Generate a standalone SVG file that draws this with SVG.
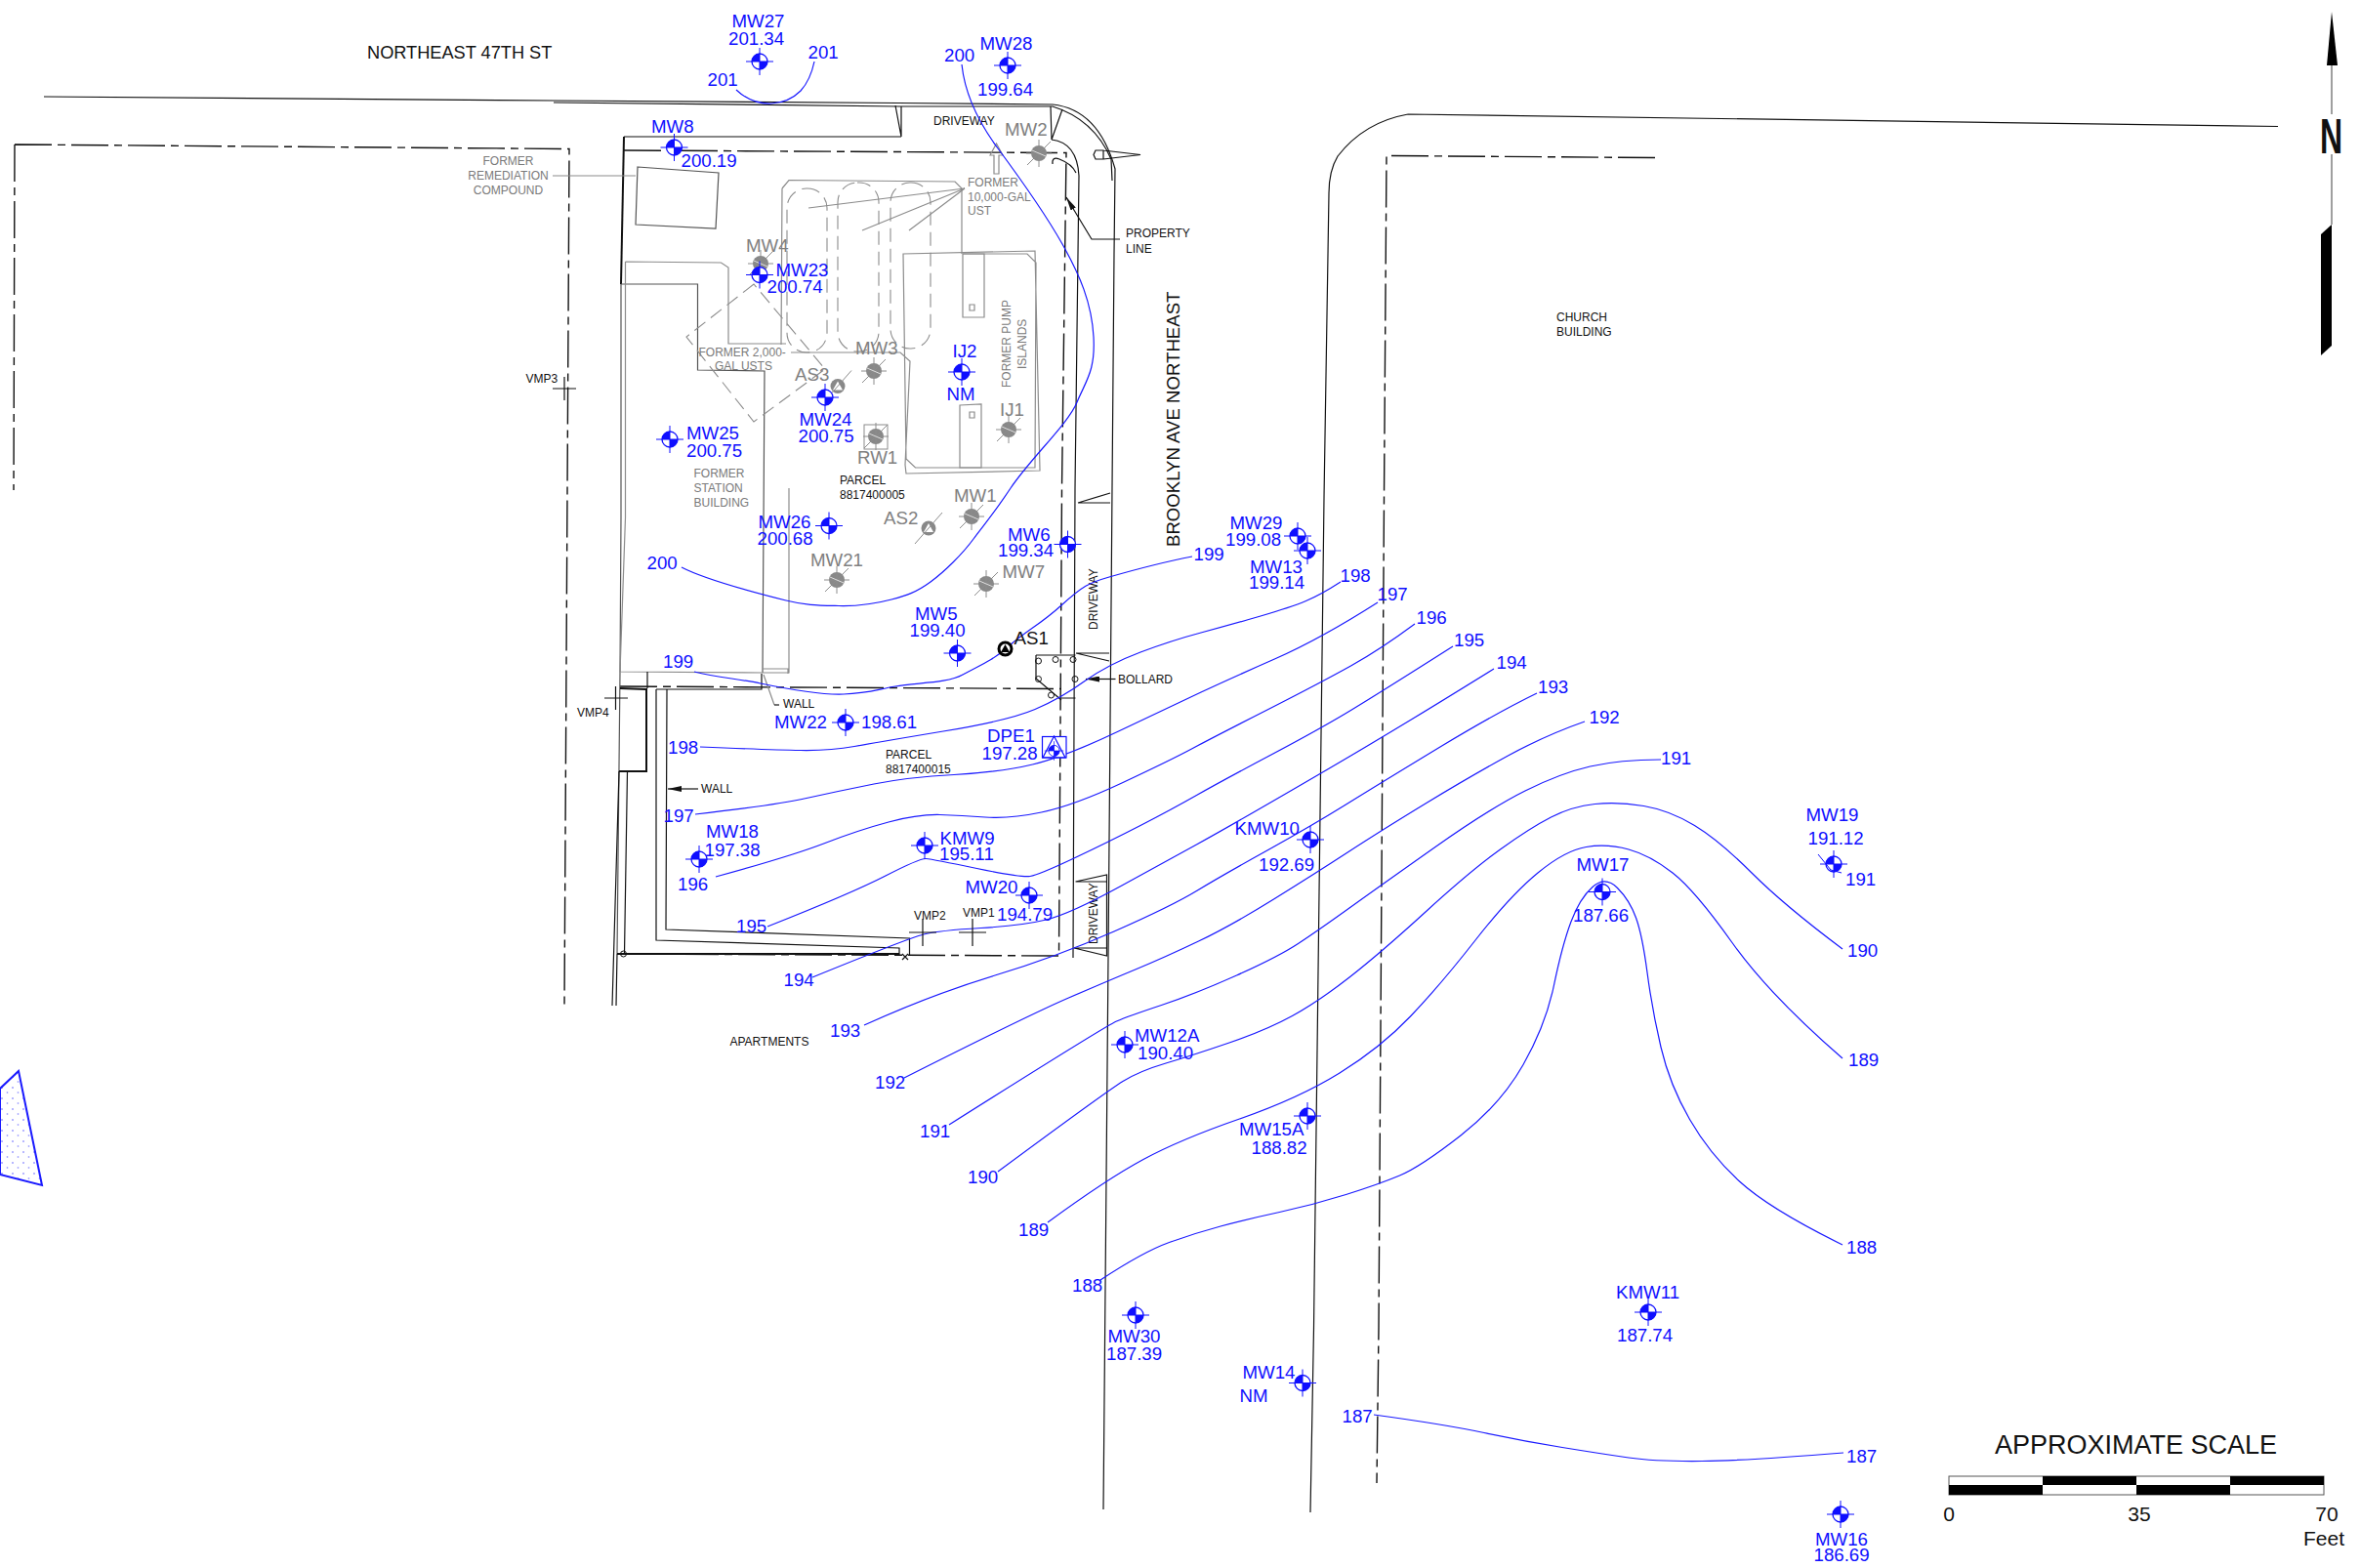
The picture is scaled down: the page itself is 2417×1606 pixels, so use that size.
<svg xmlns="http://www.w3.org/2000/svg" xmlns:xlink="http://www.w3.org/1999/xlink" width="2417" height="1606" viewBox="0 0 2417 1606">
<style>
text{font-family:"Liberation Sans",Arial,sans-serif}
.b{fill:#0f0fff;font-size:18.7px}
.g{fill:#808080;font-size:18.7px}
.s{fill:#111;font-size:12px}
.sg{fill:#7a7a7a;font-size:12px}
.l{fill:none;stroke:#111;stroke-width:1.2}
.m{fill:none;stroke:#555;stroke-width:1.2}
.t{fill:none;stroke:#111;stroke-width:2}
.y{fill:none;stroke:#8c8c8c;stroke-width:1.2}
.d{fill:none;stroke:#111;stroke-width:1.4;stroke-dasharray:38 6 8 6}
.gd{fill:none;stroke:#8c8c8c;stroke-width:1.1;stroke-dasharray:14 7}
.c{fill:none;stroke:#1a1aff;stroke-width:1.2}
</style>
<defs>
<g id="bw"><circle r="8" fill="#fff" stroke="#0f0fff" stroke-width="1.3"/><path d="M0 0H-8A8 8 0 0 1 0-8ZM0 0H8A8 8 0 0 1 0 8Z" fill="#0f0fff"/><path d="M-14 0H14M0-14V14" stroke="#0f0fff" stroke-width="1" fill="none"/></g>
<g id="gw"><circle r="8" fill="#888"/><path d="M-13 0H13M0-14V14M-12 12L12-12" stroke="#8c8c8c" stroke-width="1" fill="none"/><path d="M-7-3L7 3" stroke="#ddd" stroke-width="1"/></g>
<g id="gt"><circle r="7.500" fill="#888"/><path d="M0-5L5 4H-5Z" fill="#fff"/><path d="M-14 16L14-16" stroke="#8c8c8c" stroke-width="1"/></g>
<marker id="a" markerWidth="14" markerHeight="6" refX="0" refY="3" orient="auto" markerUnits="userSpaceOnUse"><path d="M0 3L14 0V6Z" fill="#111"/></marker>
<pattern id="dots" width="11" height="11" patternUnits="userSpaceOnUse"><circle cx="2" cy="3" r=".7" fill="#3a3aff"/><circle cx="7.500" cy="8" r=".9" fill="#a8a8ff"/></pattern>
</defs>
<rect width="2417" height="1606" fill="#fff"/>

<g id="site">
<path class="l" d="M45 99L567 103L920 105.500L1078 107Q1125 112 1142 173L1141 260L1135 980L1130 1546"/>
<path class="l" d="M567 105L922 109L1078 109Q1120 122 1138 163L1139 185"/>
<path class="l" d="M639 140H923M1077 143Q1103 146 1105 180L1101 500L1099 981"/>
<path class="l" d="M917 108L923 140V109M1076 109L1077 143L1088 112"/>
<path class="l" d="M1078 168Q1077 160 1085 163Q1098 168 1102 177"/>
<path class="d" d="M15 148L583 152.500L578 1030M15 148L14 502"/>
<path class="d" d="M639 154L1092 156.500L1087.500 500L1084.500 979L632 977M635 703L1087 705.500"/>
<path class="t" d="M639 140L636 291"/>
<path class="m" d="M636 291L636 530L635 688L632 977"/>
<path class="m" d="M636 291H714.500V379L783 380L781 689"/>
<path class="y" d="M640.500 268L738.500 269L746 274V352L805 352M640.500 268V530L635 688L781 689M808 500V689H781M781 685H807V690"/>
<path class="y" d="M810 361H922L932 370L927 476L928 485L1065 482L1060 257L925 260L928 470L937.500 479H1060L1061 269L1052 260H986"/>
<path class="y" d="M801 193L808 184.500L978 186L985 193V260M801 193L800 353"/>
<path class="y" d="M986 260H1008V325H986ZM983 415L1005 414V479H983ZM993 312h5v6h-5ZM993 422h5v6h-5Z"/>
<path class="m" d="M653 171L736 177L733 234L651 230Z"/>
<path class="y" d="M566 180H651M988 193L828 213M988 193L883 236M988 193L931 236"/>
<rect class="gd" x="806" y="193" width="41" height="168" rx="20"/>
<rect class="gd" x="858" y="187" width="42" height="173" rx="20"/>
<rect class="gd" x="912" y="187" width="41" height="170" rx="20"/>
<path class="gd" d="M772 291L703 345L772 432L845 378Z"/>
<path class="y" d="M1014 159L1020.500 147L1027 159H1023V178H1018V159Z"/>
<path class="l" d="M1092 202L1118 245H1147" marker-start="url(#a)"/>
<path class="l" d="M1122 154H1130V163H1122L1120 158.500ZM1130 154L1168 158.500L1130 163"/>
<path class="l" d="M1104 515L1137 505M1104 515H1137M1102 669L1136 677M1102 669H1136M1101.500 903L1133.500 896V979L1100 971H1133.500M1101.500 903H1133.500"/>
<path class="l" d="M1087 715H1101.500M1061 671H1101.500M1061 671V695L1087 717"/>
<g fill="none" stroke="#111" stroke-width="1"><circle cx="1063.500" cy="677" r="3"/><circle cx="1081" cy="675.500" r="3"/><circle cx="1099" cy="675.500" r="3"/><circle cx="1063.500" cy="695.500" r="3"/><circle cx="1101" cy="695.500" r="3"/><circle cx="1076.500" cy="712" r="3"/></g>
<path class="l" d="M1112 695.500H1142.500" marker-start="url(#a)"/>
<path class="l" d="M684 808H715" marker-start="url(#a)"/>
<path class="y" d="M782 691L793 722"/><path class="l" d="M793 722H798"/>
<path class="l" d="M672 706V963L921 971V979M683 706L682 952L931.500 961V979M672 706H780V690"/>
<path class="t" d="M635 705L662 706V790H634M632 977H921"/>
<path class="l" d="M663 688V705M634 790L627 1030M642.500 790L639.500 977M632 977L631 1030"/>
<circle cx="638.500" cy="977" r="3" fill="none" stroke="#111"/>
<path class="l" d="M924 977L930 983M930 977L924 983"/>
<path class="l" d="M1442 117L2333 129.500M1442 117Q1397 125 1370 160Q1361 175 1361 198L1356 510L1345.500 1360L1342 1549"/>
<path class="d" d="M1695 161.500L1420 159.500L1417.500 510L1412 1360L1410 1519"/>
</g>

<g id="wedge"><path d="M19 1097L43 1214L0 1203V1115Z" fill="url(#dots)" stroke="#1a1aff" stroke-width="2"/></g>

<g id="north-arrow">
<path d="M2388 12L2394 67H2383Z" fill="#000"/>
<path d="M2388 67V117M2388 158V230" stroke="#808080" stroke-width="1.500"/>
<path d="M2377 240L2388 230V354L2377 364Z" fill="#000"/>
<text transform="translate(2376 157) scale(.64 1)" style="font-size:50px;font-weight:bold" fill="#111">N</text>
</g>

<g id="scale">
<rect x="1996" y="1512" width="384" height="19" fill="#fff" stroke="#555" stroke-width="1"/>
<path d="M1996 1521H2092V1531H1996ZM2092 1512H2188V1521H2092ZM2188 1521H2284V1531H2188ZM2284 1512H2380V1521H2284Z" fill="#000"/>
<text x="2043" y="1489" style="font-size:27px" fill="#111">APPROXIMATE SCALE</text>
<text x="1996" y="1558" text-anchor="middle" style="font-size:21px" fill="#111">0</text>
<text x="2191" y="1558" text-anchor="middle" style="font-size:21px" fill="#111">35</text>
<text x="2383" y="1558" text-anchor="middle" style="font-size:21px" fill="#111">70</text>
<text x="2359" y="1583" style="font-size:21px" fill="#111">Feet</text>
</g>

<g id="plan-labels">
<text x="376" y="60" style="font-size:18.2px" fill="#111">NORTHEAST 47TH ST</text>
<text x="956" y="128" class="s">DRIVEWAY</text>
<text class="sg" x="520.500" y="169" text-anchor="middle">FORMER</text>
<text class="sg" x="520.500" y="183.500" text-anchor="middle">REMEDIATION</text>
<text class="sg" x="520.500" y="198.500" text-anchor="middle">COMPOUND</text>
<text class="sg" x="991" y="191">FORMER</text><text class="sg" x="991" y="205.500">10,000-GAL</text><text class="sg" x="991" y="220">UST</text>
<text class="s" x="1153" y="243">PROPERTY</text><text class="s" x="1153" y="258.500">LINE</text>
<text class="sg" x="715.500" y="365">FORMER 2,000-</text><text class="sg" x="732" y="379">GAL USTS</text>
<text class="sg" transform="translate(1035 397) rotate(-90)">FORMER PUMP</text>
<text class="sg" transform="translate(1050.500 378) rotate(-90)">ISLANDS</text>
<text class="sg" x="710.500" y="489">FORMER</text><text class="sg" x="710.500" y="504">STATION</text><text class="sg" x="710.500" y="519">BUILDING</text>
<text class="s" x="860" y="496">PARCEL</text><text class="s" x="860" y="511">8817400005</text>
<text class="s" x="907" y="777">PARCEL</text><text class="s" x="907" y="792">8817400015</text>
<text class="s" x="802" y="725">WALL</text><text class="s" x="718" y="812">WALL</text><text class="s" x="1145" y="700">BOLLARD</text>
<text class="s" x="747.500" y="1071">APARTMENTS</text>
<text class="s" x="1594" y="329">CHURCH</text><text class="s" x="1594" y="343.500">BUILDING</text>
<text transform="translate(1208 560) rotate(-90)" style="font-size:18.6px" fill="#111">BROOKLYN AVE NORTHEAST</text>
<text class="s" transform="translate(1123.500 645) rotate(-90)">DRIVEWAY</text>
<text class="s" transform="translate(1124 967) rotate(-90)">DRIVEWAY</text>
</g>

<g id="contours">
<path id="c201" class="c" d="M754 92Q770 107 790 106Q808 105 820 93Q830 82 834 63"/>
<path id="c200" class="c" d="M985 66C988 95 1002 125 1022 152S1070 218 1088 250S1118 310 1120 345S1112 390 1103 412S1055 470 1035 500S1008 537 997 552S968 585 953 596S928 610 913 614S880 621 859 620.500S825 620 805 615S725 595 698 581"/>
<path id="c199" class="c" d="M711 688C735 694 755 695 779 700S840 712 864 711S895 707 917 703S970 700 986 691S1015 678 1033 662S1065 640 1087 620S1115 597 1136 591S1195 575 1221 570"/>
<path id="c198" class="c" d="M717 765Q790 768 820 768.500Q850 769 875 764.500Q900 760 966 749Q1033 738 1060 726.500Q1087 715 1111 697.500Q1136 680 1168 668Q1200 656 1230 648Q1260 640 1291 631Q1322 622 1337.500 615.500Q1353 609 1373 596"/>
<path id="c197" class="c" d="M712 834Q792 825 826 817.500Q860 810 895 803Q930 796 977 793.500Q1024 791 1057.500 783Q1091 775 1145.500 749Q1200 723 1230 709Q1260 695 1306.500 674.500Q1353 654 1411 617"/>
<path id="c196" class="c" d="M733 898Q810 877 845 863.500Q880 850 910 842Q940 834 962.500 834.500Q985 835 1009 837Q1033 839 1066.500 832Q1100 825 1150 801.500Q1200 778 1220.500 767Q1241 756 1297 727.500Q1353 699 1383.500 682Q1414 665 1449 639"/>
<path id="c195" class="c" d="M786 949Q872 915 907 897Q942 879 948.500 879.500Q955 880 1000.500 889.500Q1046 899 1055 897.500Q1064 896 1100 879Q1136 862 1168 845.500Q1200 829 1225.500 814.500Q1251 800 1302 773Q1353 746 1383.500 727.500Q1414 709 1488 662"/>
<path id="c194" class="c" d="M832 1001Q930 961 946 957Q962 953 1004.500 950.500Q1047 948 1071.500 942Q1096 936 1148 907.500Q1200 879 1225.500 865Q1251 851 1302 821.500Q1353 792 1383.500 774Q1414 756 1447 736Q1480 716 1530 685"/>
<path id="c193" class="c" d="M885 1050Q956 1018 1019 999Q1082 980 1141 954Q1200 928 1225.500 912.500Q1251 897 1297 871.500Q1343 846 1378.500 824Q1414 802 1472.500 766.500Q1531 731 1574 710"/>
<path id="c192" class="c" d="M926 1104Q1055 1039 1094.500 1022Q1134 1005 1164 992.500Q1194 980 1227.500 964Q1261 948 1304.500 921Q1348 894 1381 872.500Q1414 851 1460 823Q1506 795 1544.500 774Q1583 753 1623 739"/>
<path id="c191" class="c" d="M972 1152Q1132 1051 1143.500 1046Q1155 1041 1189.500 1029.500Q1224 1018 1266.500 999Q1309 980 1329.500 966.500Q1350 953 1382 930Q1414 907 1470 867.500Q1526 828 1562 810Q1598 792 1628.500 785Q1659 778 1701 778"/>
<path id="c190" class="c" d="M1022 1200Q1133 1118 1150 1107.500Q1167 1097 1194 1089Q1221 1081 1259 1068Q1297 1055 1323.500 1040.500Q1350 1026 1382 1001Q1414 976 1460 934Q1506 892 1536.500 870Q1567 848 1588.500 837Q1610 826 1633.500 823.500Q1657 821 1683.500 825.500Q1710 830 1735.500 845.500Q1761 861 1794 894Q1827 927 1887 972"/>
<path id="c189" class="c" d="M1073 1252Q1133 1208 1171 1187.500Q1209 1167 1269.500 1146Q1330 1125 1372 1099Q1414 1073 1444.500 1041Q1475 1009 1511 963Q1547 917 1575 894Q1603 871 1624.500 867.500Q1646 864 1668 870Q1690 876 1713 894Q1736 912 1774 965.500Q1812 1019 1887 1084"/>
<path id="c188" class="c" d="M1127 1311Q1171 1282 1197.500 1272.500Q1224 1263 1250 1256Q1276 1249 1310.500 1241.500Q1345 1234 1378.500 1223.500Q1412 1213 1433.500 1204Q1455 1195 1496 1163Q1537 1131 1560 1090.500Q1583 1050 1591.500 1009Q1600 968 1609 944Q1618 920 1631 908.500Q1644 897 1656.500 909.500Q1669 922 1675.500 940Q1682 958 1687 996Q1692 1034 1701 1072.500Q1710 1111 1730.500 1146.500Q1751 1182 1781.500 1210Q1812 1238 1887 1275"/>
<path id="c187" class="c" d="M1407 1449Q1480 1459 1520 1467.500Q1560 1476 1600 1482.500Q1640 1489 1668 1493Q1696 1497 1743 1496.500Q1790 1496 1888 1488"/>
</g>

<g id="contour-labels" class="b">
<text class="b" x="827.500" y="60">201</text><text class="b" x="724.500" y="88">201</text>
<text class="b" x="967" y="63">200</text><text class="b" x="662.500" y="583">200</text>
<text class="b" x="679" y="684">199</text><text class="b" x="1222.500" y="574">199</text>
<text class="b" x="684" y="772">198</text><text class="b" x="1372.500" y="596">198</text>
<text class="b" x="679.500" y="842">197</text><text class="b" x="1410.500" y="614.500">197</text>
<text class="b" x="694" y="911.500">196</text><text class="b" x="1450.500" y="639">196</text>
<text class="b" x="754" y="954.500">195</text><text class="b" x="1489" y="661.500">195</text>
<text class="b" x="802.500" y="1009.500">194</text><text class="b" x="1532.500" y="685">194</text>
<text class="b" x="850" y="1062">193</text><text class="b" x="1575" y="709.500">193</text>
<text class="b" x="896" y="1115">192</text><text class="b" x="1627.500" y="741">192</text>
<text class="b" x="942" y="1165">191</text><text class="b" x="1701" y="783">191</text><text class="b" x="1890" y="907">191</text>
<text class="b" x="991" y="1212">190</text><text class="b" x="1892" y="979.500">190</text>
<text class="b" x="1043" y="1266">189</text><text class="b" x="1893" y="1092">189</text>
<text class="b" x="1098" y="1323">188</text><text class="b" x="1891" y="1283.500">188</text>
<text class="b" x="1374.500" y="1457">187</text><text class="b" x="1891" y="1497.500">187</text>
</g>

<g id="MW27"><use href="#bw" x="778" y="63"/><text class="b" x="749.500" y="28">MW27</text><text class="b" x="746" y="46">201.34</text></g>
<g id="MW28"><use href="#bw" x="1032" y="67"/><text class="b" x="1003.500" y="50.500">MW28</text><text class="b" x="1001" y="98">199.64</text></g>
<g id="MW8"><use href="#bw" x="690.500" y="151"/><text class="b" x="667" y="136">MW8</text><text class="b" x="697.500" y="170.500">200.19</text></g>
<g id="MW2"><use href="#gw" x="1064" y="157"/><text class="g" x="1029" y="139">MW2</text></g>
<g id="MW4"><use href="#gw" x="779" y="270"/><text class="g" x="764" y="257.500">MW4</text></g>
<g id="MW23"><use href="#bw" x="778" y="281.500"/><text class="b" x="794.500" y="283">MW23</text><text class="b" x="785.500" y="300">200.74</text></g>
<g id="MW3"><use href="#gw" x="895" y="380"/><text class="g" x="876" y="363">MW3</text></g>
<g id="AS3"><use href="#gt" x="858" y="395.500"/><text class="g" x="814" y="390">AS3</text></g>
<g id="MW24"><use href="#bw" x="845" y="407"/><text class="b" x="818.500" y="436">MW24</text><text class="b" x="817.500" y="453">200.75</text></g>
<g id="IJ2"><use href="#bw" x="985" y="381"/><text class="b" x="975.500" y="365.500">IJ2</text><text class="b" x="969.500" y="409.500">NM</text></g>
<g id="IJ1"><use href="#gw" x="1033" y="440"/><text class="g" x="1024" y="426">IJ1</text></g>
<g id="RW1"><rect x="885" y="435" width="24" height="25" fill="#fff" stroke="#8c8c8c"/><use href="#gw" x="897" y="447"/><text class="g" x="878" y="475">RW1</text></g>
<g id="MW25"><use href="#bw" x="686" y="450"/><text class="b" x="703" y="449.500">MW25</text><text class="b" x="703" y="467.500">200.75</text></g>
<g id="MW26"><use href="#bw" x="849" y="538.500"/><text class="b" x="776.500" y="540.500">MW26</text><text class="b" x="775.500" y="558">200.68</text></g>
<g id="AS2"><use href="#gt" x="951" y="541"/><text class="g" x="905" y="537">AS2</text></g>
<g id="MW1"><use href="#gw" x="995" y="529"/><text class="g" x="977" y="514">MW1</text></g>
<g id="MW6"><use href="#bw" x="1093.500" y="557.500"/><text class="b" x="1032" y="553.500">MW6</text><text class="b" x="1022" y="570">199.34</text></g>
<g id="MW21"><use href="#gw" x="857" y="594"/><text class="g" x="830" y="580">MW21</text></g>
<g id="MW7"><use href="#gw" x="1010" y="598"/><text class="g" x="1026.500" y="591.500">MW7</text></g>
<g id="MW5"><use href="#bw" x="980.500" y="669"/><text class="b" x="937" y="635">MW5</text><text class="b" x="931.500" y="651.500">199.40</text></g>
<g id="AS1"><circle cx="1029.500" cy="664.500" r="6.500" fill="#fff" stroke="#000" stroke-width="3"/><path d="M1029.500 660L1034 668H1025Z" fill="#000"/><text x="1038.500" y="659.500" style="font-size:18.7px" fill="#111">AS1</text></g>
<g id="MW22"><use href="#bw" x="866" y="740"/><text class="b" x="793" y="745.500">MW22</text><text class="b" x="882" y="745.500">198.61</text></g>
<g id="DPE1"><rect x="1067.500" y="754.500" width="24.500" height="21.500" fill="#fff" stroke="#0f0fff" stroke-width="1.200"/><use href="#bw" transform="translate(1079.500 769) scale(.7)"/><path d="M1079.500 754L1091 776H1068Z" fill="none" stroke="#0f0fff" stroke-width="1.200"/><text class="b" x="1011" y="760">DPE1</text><text class="b" x="1005.500" y="778">197.28</text></g>
<g id="MW18"><use href="#bw" x="716" y="880"/><text class="b" x="723" y="857.500">MW18</text><text class="b" x="721.500" y="876.500">197.38</text></g>
<g id="KMW9"><use href="#bw" x="947" y="866"/><text class="b" x="962.500" y="864.500">KMW9</text><text class="b" x="962" y="881">195.11</text></g>
<g id="MW20"><use href="#bw" x="1054" y="917"/><text class="b" x="988.500" y="914.500">MW20</text><text class="b" x="1021" y="943">194.79</text></g>
<g id="VMP1"><path class="l" d="M982 955H1010M996 941V969"/><text class="s" x="986" y="939">VMP1</text></g>
<g id="VMP2"><path class="l" d="M931 955H959M945 941V969"/><text class="s" x="936" y="941.500">VMP2</text></g>
<g id="VMP3"><path class="l" d="M566 398H590M578 386V410"/><text class="s" x="538.500" y="392">VMP3</text></g>
<g id="VMP4"><path class="l" d="M619 715H643M630.500 703V727"/><text class="s" x="591" y="733.500">VMP4</text></g>
<g id="MW29"><use href="#bw" x="1329" y="549"/><text class="b" x="1259.500" y="542">MW29</text><text class="b" x="1255" y="559">199.08</text></g>
<g id="MW13"><use href="#bw" x="1339" y="564"/><text class="b" x="1280" y="586.500">MW13</text><text class="b" x="1279" y="603">199.14</text></g>
<g id="KMW10"><use href="#bw" x="1342" y="860"/><text class="b" x="1264.500" y="855">KMW10</text><text class="b" x="1289" y="891.500">192.69</text></g>
<g id="MW19"><use href="#bw" x="1878" y="885"/><path d="M1862 875L1875 891L1886 894" fill="none" stroke="#0f0fff"/><text class="b" x="1849.500" y="840.500">MW19</text><text class="b" x="1851.500" y="864.500">191.12</text></g>
<g id="MW17"><use href="#bw" x="1641" y="913.500"/><text class="b" x="1614.500" y="891.500">MW17</text><text class="b" x="1611" y="943.500">187.66</text></g>
<g id="MW12A"><use href="#bw" x="1152" y="1070"/><text class="b" x="1162" y="1067">MW12A</text><text class="b" x="1165" y="1084.500">190.40</text></g>
<g id="MW15A"><use href="#bw" x="1339" y="1143"/><text class="b" x="1269" y="1163">MW15A</text><text class="b" x="1281.500" y="1182">188.82</text></g>
<g id="MW30"><use href="#bw" x="1163" y="1347"/><text class="b" x="1134.500" y="1375">MW30</text><text class="b" x="1133" y="1392.500">187.39</text></g>
<g id="KMW11"><use href="#bw" x="1688" y="1344"/><text class="b" x="1655" y="1329.500">KMW11</text><text class="b" x="1656" y="1373.500">187.74</text></g>
<g id="MW14"><use href="#bw" x="1334" y="1416.500"/><text class="b" x="1272.500" y="1411.500">MW14</text><text class="b" x="1269.500" y="1435.500">NM</text></g>
<g id="MW16"><use href="#bw" x="1885" y="1551"/><text class="b" x="1859" y="1582.500">MW16</text><text class="b" x="1857.500" y="1599">186.69</text></g>
</svg>
